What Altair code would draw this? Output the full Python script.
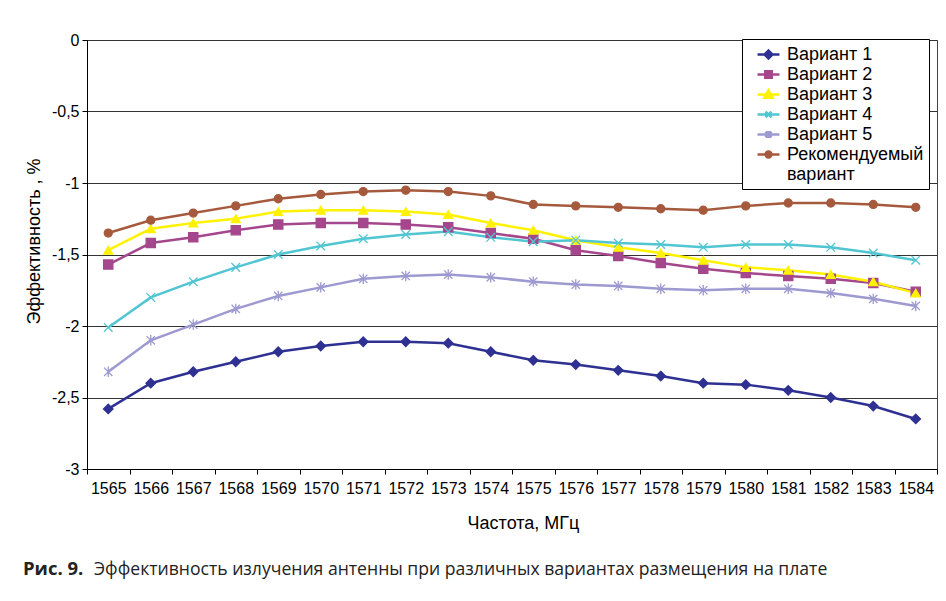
import altair as alt
import pandas as pd

freqs = [1565, 1566, 1567, 1568, 1569, 1570, 1571, 1572, 1573, 1574,
         1575, 1576, 1577, 1578, 1579, 1580, 1581, 1582, 1583, 1584]

series = ["Вариант 1", "Вариант 2", "Вариант 3", "Вариант 4", "Вариант 5",
          "Рекомендуемый вариант"]

v1 = [-2.58, -2.40, -2.32, -2.25, -2.18, -2.14, -2.11, -2.11, -2.12, -2.18,
      -2.24, -2.27, -2.31, -2.35, -2.40, -2.41, -2.45, -2.50, -2.56, -2.65]
v2 = [-1.57, -1.42, -1.38, -1.33, -1.29, -1.28, -1.28, -1.29, -1.31, -1.35,
      -1.39, -1.47, -1.51, -1.56, -1.60, -1.63, -1.65, -1.67, -1.70, -1.76]
v3 = [-1.47, -1.32, -1.28, -1.25, -1.20, -1.19, -1.19, -1.20, -1.22, -1.28,
      -1.33, -1.40, -1.45, -1.49, -1.54, -1.59, -1.61, -1.64, -1.69, -1.77]
v4 = [-2.01, -1.80, -1.69, -1.59, -1.50, -1.44, -1.39, -1.36, -1.34, -1.38,
      -1.41, -1.40, -1.42, -1.43, -1.45, -1.43, -1.43, -1.45, -1.49, -1.54]
v5 = [-2.32, -2.10, -1.99, -1.88, -1.79, -1.73, -1.67, -1.65, -1.64, -1.66,
      -1.69, -1.71, -1.72, -1.74, -1.75, -1.74, -1.74, -1.77, -1.81, -1.86]
rec = [-1.35, -1.26, -1.21, -1.16, -1.11, -1.08, -1.06, -1.05, -1.06, -1.09,
       -1.15, -1.16, -1.17, -1.18, -1.19, -1.16, -1.14, -1.14, -1.15, -1.17]

y_ticks = [0, -0.5, -1, -1.5, -2, -2.5, -3]

colors = ["#2E3192", "#A4478C", "#FFF200", "#52C5D3", "#9D99D1", "#A65A3D"]

marker_shapes = [
    "M0,-1L1,0L0,1L-1,0Z",
    "square",
    "triangle-up",
    "M-1,-1L1,1M-1,1L1,-1",
    "M-1,-1L1,1M-1,1L1,-1M0,-1.25L0,1.25",
    "circle",
]
marker_sizes = [90, 64, 90, 60, 60, 56]

legend_labels = series[:5] + series[5].split(" ")
legend_colors = colors + ["transparent"]
legend_shapes = [
    "M-1.22,0H1.22M0,-0.44L0.44,0L0,0.44L-0.44,0Z",
    "M-1.22,0H1.22M-0.36,-0.36H0.36V0.36H-0.36Z",
    "M-1.22,0H1.22M0,-0.46L0.46,0.36H-0.46Z",
    "M-1.22,0H1.22M-0.33,-0.33L0.33,0.33M-0.33,0.33L0.33,-0.33",
    "M-1.22,0H1.22M-0.33,-0.33L0.33,0.33M-0.33,0.33L0.33,-0.33M0,-0.4V0.4",
    "M-1.22,0H1.22M0.33,0A0.33,0.33,0,1,1,-0.33,0A0.33,0.33,0,1,1,0.33,0Z",
    "M0,0",
]

rows = []
for name, vals in zip(series, [v1, v2, v3, v4, v5, rec]):
    for f, v in zip(freqs, vals):
        rows.append({"freq": f, "series": name, "value": v})
df = pd.DataFrame(rows)

FONT = "Liberation Sans, Arial, Helvetica, sans-serif"
CAP_FONT = "Open Sans, sans-serif"

x_enc = alt.X(
    "freq:O",
    scale=alt.Scale(type="band", paddingInner=0, paddingOuter=0),
    bandPosition=0.5,
    axis=alt.Axis(
        title="Частота, МГц", labelAngle=0, tickBand="extent", tickSize=5,
        labelPadding=6, titleX=436, titleY=59, titleBaseline="alphabetic",
        grid=False,
    ),
)
y_enc = alt.Y(
    "value:Q",
    scale=alt.Scale(domain=[-3, 0], nice=False, zero=False),
    axis=alt.Axis(
        title="Эффективность , %", values=y_ticks, tickSize=5, labelPadding=3,
        labelExpr="replace(replace(format(datum.value, '.1~f'), '.', ','), '\u2212', '-')",
        grid=True, gridColor="#333333", gridWidth=1,
        titleX=-48, titleY=201, titleAngle=270, titleBaseline="alphabetic",
        titleAlign="center",
    ),
)

lines = alt.Chart(df).mark_line(strokeWidth=2.5).encode(
    x=x_enc, y=y_enc,
    color=alt.Color("series:N", scale=alt.Scale(domain=series, range=colors), legend=None),
)

points = alt.Chart(df).mark_point(opacity=1, strokeWidth=1.3).encode(
    x=x_enc, y=y_enc,
    fill=alt.Fill("series:N", scale=alt.Scale(domain=series, range=colors), legend=None),
    stroke=alt.Stroke("series:N", scale=alt.Scale(domain=series, range=colors), legend=None),
    shape=alt.Shape("series:N", scale=alt.Scale(domain=series, range=marker_shapes), legend=None),
    size=alt.Size("series:N", scale=alt.Scale(domain=series, range=marker_sizes), legend=None),
)

leg = alt.Legend(
    title=None, orient="none", legendX=655, legendY=-1,
    labelExpr="datum.label == 'Рекомендуемый' ? 'Рекомендуемый  ' : datum.label",
)
legend_layer = alt.Chart(df).transform_filter("false").mark_point(opacity=1, strokeWidth=2.5).encode(
    fill=alt.Fill("series:N", scale=alt.Scale(domain=legend_labels, range=legend_colors), legend=leg),
    stroke=alt.Stroke("series:N", scale=alt.Scale(domain=legend_labels, range=legend_colors), legend=leg),
    shape=alt.Shape("series:N", scale=alt.Scale(domain=legend_labels, range=legend_shapes), legend=leg),
)

cap_bold = alt.Chart(alt.Data(values=[{}])).mark_text(
    text="Рис. 9.", font=CAP_FONT, fontSize=18.5, fontWeight="bold",
    align="left", baseline="alphabetic", color="#222222",
).encode(x=alt.value(-64), y=alt.value(535))

cap_text = alt.Chart(alt.Data(values=[{}])).mark_text(
    text="Эффективность излучения антенны при различных вариантах размещения на плате",
    font=CAP_FONT, fontSize=17.6, align="left", baseline="alphabetic", color="#222222",
).encode(x=alt.value(7), y=alt.value(535))

chart = alt.layer(lines, points, legend_layer, cap_bold, cap_text).resolve_scale(
    fill="independent", stroke="independent", shape="independent"
).properties(
    width=850, height=429,
    padding={"left": 79, "top": 32, "right": 1, "bottom": 120},
    autosize=alt.AutoSizeParams(type="none"),
    background="white",
).configure_view(
    fill="#D1D2D4", stroke="#444444", strokeWidth=1,
).configure_axis(
    labelFont=FONT, labelFontSize=16, labelColor="black",
    titleFont=FONT, titleFontSize=18, titleFontWeight="normal", titleColor="black",
    domainColor="black", tickColor="black", domainWidth=1,
).configure_legend(
    labelFont=FONT, labelFontSize=18, labelColor="black", labelLimit=400,
    rowPadding=-1.5, padding=5, symbolOffset=11, labelOffset=8,
    symbolSize=324, symbolStrokeWidth=2.5, symbolOpacity=1,
    fillColor="white", strokeColor="black",
)

chart.save("out.html", embed_options={"renderer": "svg", "actions": False})
